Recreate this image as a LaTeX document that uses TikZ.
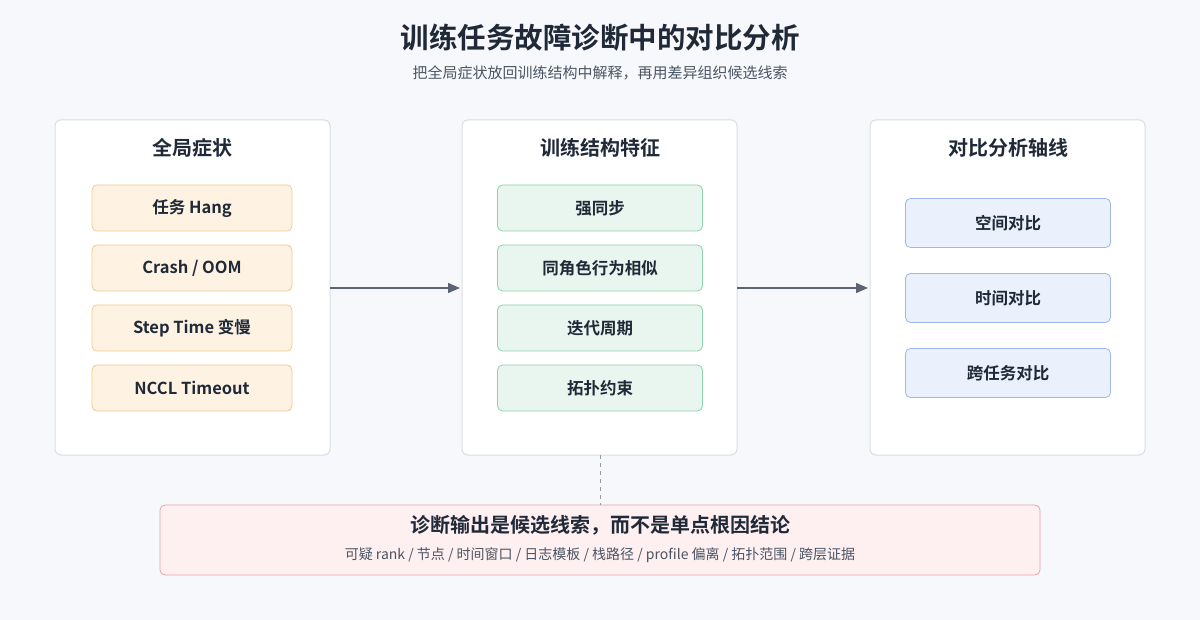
\documentclass[tikz,border=0pt]{standalone}
\usepackage{fontspec}
\setmainfont{Noto Sans CJK SC}[BoldFont={Noto Sans CJK SC Bold}]
\usetikzlibrary{arrows.meta}
\definecolor{bg}{HTML}{F6F8FB}
\definecolor{ink}{HTML}{1F2937}
\definecolor{sub}{HTML}{4B5563}
\definecolor{pb}{HTML}{D9DEE5}
\definecolor{of}{HTML}{FEF3E3}\definecolor{ob}{HTML}{F3C98B}
\definecolor{gf}{HTML}{E8F6EF}\definecolor{gb}{HTML}{8FD0AF}
\definecolor{bf}{HTML}{EAF1FD}\definecolor{bb}{HTML}{9DB7EA}
\definecolor{rf}{HTML}{FEEFF0}\definecolor{rb}{HTML}{E8A3AE}
\definecolor{arr}{HTML}{5A6475}
\begin{document}
\begin{tikzpicture}[x=1pt,y=-1pt,
 panel/.style={draw=pb,fill=white,rounded corners=6pt,line width=1pt},
 box/.style={rounded corners=5pt,line width=0.8pt,text=ink,font=\fontsize{16.5}{19}\selectfont\bfseries},
 ob/.style={box,draw=ob,fill=of,minimum width=200pt,minimum height=46pt},
 gb/.style={box,draw=gb,fill=gf,minimum width=205pt,minimum height=46pt},
 bb/.style={box,draw=bb,fill=bf,minimum width=205pt,minimum height=49pt},
 ptitle/.style={text=ink,font=\fontsize{20}{24}\selectfont\bfseries},
 conn/.style={draw=arr,line width=1.5pt,-{Triangle[length=12pt,width=10pt]}}]
\fill[bg] (0,0) rectangle (1200,620);
\useasboundingbox (0,0) rectangle (1200,620);
\node[text=ink,font=\fontsize{28.5}{32}\selectfont\bfseries] (t) at (600,38) {训练任务故障诊断中的对比分析};
\node[text=sub,font=\fontsize{15}{18}\selectfont] (s) at (600,73) {把全局症状放回训练结构中解释，再用差异组织候选线索};
\draw[panel] (55,120) rectangle (330,455);
\draw[panel] (462,120) rectangle (737,455);
\draw[panel] (870,120) rectangle (1145,455);
\node[ptitle] (t1) at (192,148) {全局症状};
\node[ptitle] (t2) at (600,148) {训练结构特征};
\node[ptitle] (t3) at (1008,148) {对比分析轴线};
\node[ob] (a1) at (192,208) {任务 Hang};
\node[ob] (a2) at (192,268) {Crash / OOM};
\node[ob] (a3) at (192,328) {Step Time 变慢};
\node[ob] (a4) at (192,388) {NCCL Timeout};
\node[gb] (b1) at (600,208) {强同步};
\node[gb] (b2) at (600,268) {同角色行为相似};
\node[gb] (b3) at (600,328) {迭代周期};
\node[gb] (b4) at (600,388) {拓扑约束};
\node[bb] (c1) at (1008,223) {空间对比};
\node[bb] (c2) at (1008,298) {时间对比};
\node[bb] (c3) at (1008,373) {跨任务对比};
\coordinate (e1) at (330,288); \coordinate (e2) at (460,288);
\coordinate (e3) at (737,288); \coordinate (e4) at (868,288);
\draw[conn] (e1) -- (e2);
\draw[conn] (e3) -- (e4);
\node[draw=rb,fill=rf,rounded corners=5pt,line width=0.8pt,minimum width=880pt,minimum height=70pt] (d) at (600,540) {};
\coordinate (m1) at (600,455);
\draw[pb!70!black,line width=1pt,dash pattern=on 4pt off 4pt] (m1) -- (d.north);
\node[text=ink,font=\fontsize{20}{24}\selectfont\bfseries] (d1) at (600,525) {诊断输出是候选线索，而不是单点根因结论};
\node[text=sub,font=\fontsize{14}{17}\selectfont] (d2) at (600,555) {可疑 rank / 节点 / 时间窗口 / 日志模板 / 栈路径 / profile 偏离 / 拓扑范围 / 跨层证据};
\end{tikzpicture}
\end{document}
